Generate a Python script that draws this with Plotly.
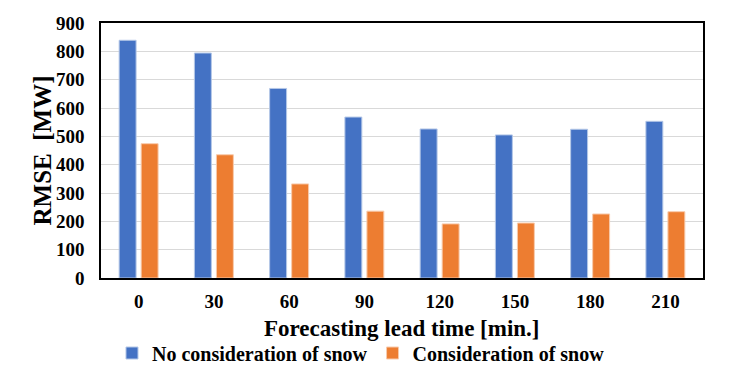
import plotly.graph_objects as go

lead_times = ["0", "30", "60", "90", "120", "150", "180", "210"]
no_snow = [839, 794, 669, 568, 526, 505, 525, 553]
with_snow = [474, 435, 332, 236, 191, 194, 226, 234]

font_family = "Liberation Serif"
W, H = 716, 362  # page body adds an 8px margin around the figure

fig = go.Figure()
fig.add_trace(go.Bar(x=lead_times, y=no_snow, name="No consideration of snow",
                     marker=dict(color="#4472C4", line=dict(color="#B4C7E7", width=1))))
fig.add_trace(go.Bar(x=lead_times, y=with_snow, name="Consideration of snow",
                     marker=dict(color="#ED7D31", line=dict(color="#F8CBAD", width=1))))

fig.update_layout(
    width=W, height=H,
    margin=dict(l=93, r=21, t=15, b=92),
    paper_bgcolor="white", plot_bgcolor="white",
    barmode="group", bargap=0.415, bargroupgap=0.23,
    font=dict(family=font_family, size=19, color="black"),
    legend=dict(orientation="h", xref="container", x=0.493, xanchor="center",
                yref="container", y=1 - 345 / H, yanchor="middle",
                font=dict(family=font_family, size=20, color="black", weight="bold"),
                itemwidth=30, traceorder="normal"),
    showlegend=True,
    annotations=[
        dict(text="RMSE  [MW]", xref="paper", yref="paper", x=0, y=0.5,
             xanchor="center", yanchor="middle", xshift=-59, textangle=-90,
             showarrow=False,
             font=dict(family=font_family, size=25, color="black", weight="bold")),
        dict(text="Forecasting lead time [min.]", xref="paper", yref="paper", x=0.5, y=0,
             xanchor="center", yanchor="middle", yshift=-50, showarrow=False,
             font=dict(family=font_family, size=23, color="black", weight="bold")),
    ],
)
fig.update_xaxes(
    automargin=False,
    showline=True, linecolor="black", linewidth=1.5, mirror=True,
    showgrid=False, ticks="",
    tickfont=dict(family=font_family, size=19, color="black", weight="bold"),
    ticklabelstandoff=5,
)
fig.update_yaxes(
    automargin=False,
    range=[0, 900], dtick=100,
    showline=True, linecolor="black", linewidth=1.5, mirror=True,
    showgrid=True, gridcolor="#D9D9D9", gridwidth=1,
    zeroline=False, ticks="",
    tickfont=dict(family=font_family, size=19, color="black", weight="bold"),
    ticklabelstandoff=11,
)

fig.write_html("out.html")
